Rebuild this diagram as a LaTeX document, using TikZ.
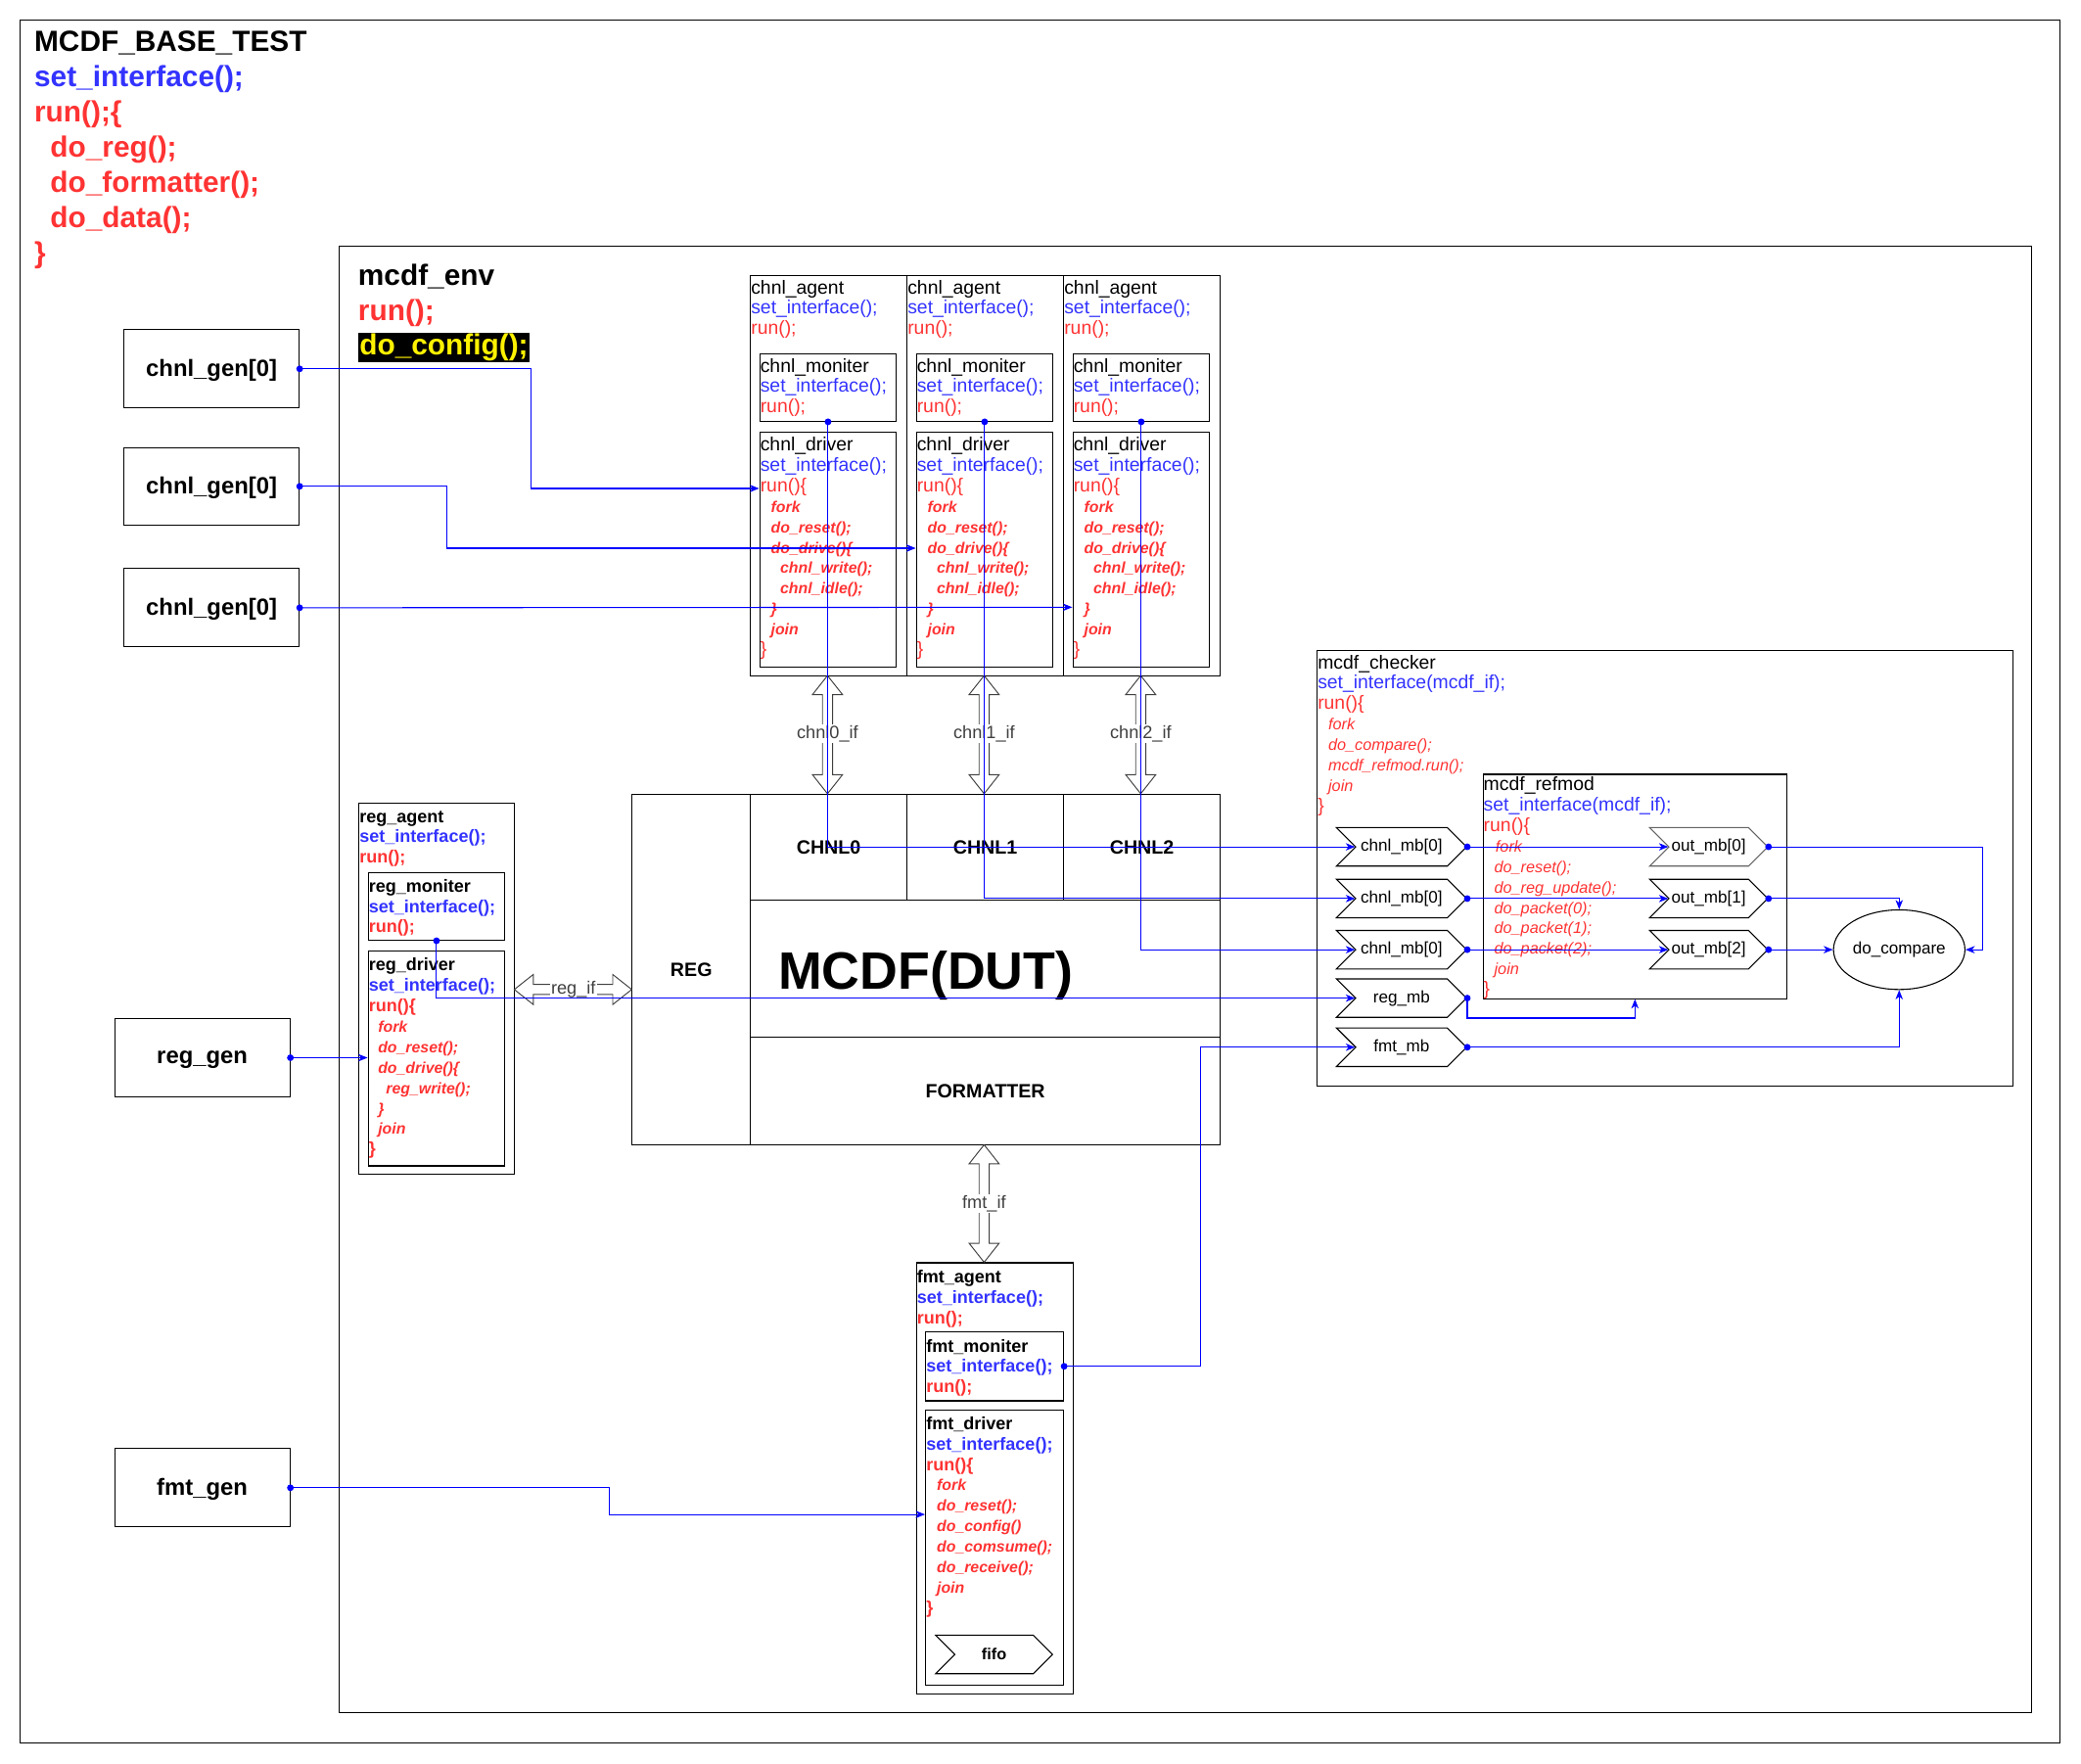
\documentclass[tikz,border=0pt]{standalone}
\usepackage{fontspec}
\setmainfont{Liberation Sans}
\usetikzlibrary{arrows.meta,shapes.symbols,shapes.geometric}
\definecolor{txtblue}{RGB}{51,51,255}
\definecolor{txtred}{RGB}{255,51,51}
\definecolor{ifgray}{RGB}{64,64,64}
\definecolor{mbgray}{RGB}{100,100,100}
\newcommand\inblue[1]{\textcolor{txtblue}{#1}}
\newcommand\inred[1]{\textcolor{txtred}{#1}}
\newcommand\drvline[1]{{\fontsize{11.7}{15.4}\selectfont\bfseries\itshape\color{txtred}#1}}
\newcommand\chkline[1]{{\fontsize{12}{15.4}\selectfont\itshape\color{txtred}#1}}
\begin{document}
\begin{tikzpicture}[x=1pt, y=-1pt, line width=0.8pt,
  box/.style={draw, rectangle, anchor=north west, inner sep=0pt},
  genbox/.style={box, minimum width=132pt, minimum height=59pt, text depth=1pt, font=\fontsize{17.6}{20}\selectfont\bfseries},
  code/.style={anchor=north west, inner sep=0pt, align=left, font=\fontsize{14.3}{15.4}\selectfont},
  boldcode/.style={code, font=\fontsize{13.3}{15.4}\selectfont\bfseries},
  dutcell/.style={box, font=\fontsize{14.5}{17}\selectfont\bfseries},
  mbox/.style={draw, signal, signal from=west, signal to=east, minimum width=98pt, minimum height=29pt, inner sep=0pt, font=\fontsize{12.6}{14}\selectfont},
  ifarrow/.style={draw=ifgray, fill=white, line width=0.7pt},
  iflabel/.style={fill=white, inner sep=0.8pt, text=ifgray, font=\fontsize{13.4}{15}\selectfont},
  wire/.style={draw=blue, line width=0.8pt, shorten <=-2.5pt, {Circle[length=5pt]}-{Stealth[length=7pt,width=5.5pt,inset=2pt]}}]
\useasboundingbox[fill=white] (0,0) rectangle (1568,1328.3);
\node[box, minimum width=1537pt, minimum height=1298pt] (test) at (15,15) {};
\node[code, font=\fontsize{22}{26.5}\selectfont\bfseries] (testtxt) at (25.5,23) {MCDF\_BASE\_TEST\\\inblue{set\_interface();}\\\inred{run();\{}\\\hspace*{12pt}\inred{do\_reg();}\\\hspace*{12pt}\inred{do\_formatter();}\\\hspace*{12pt}\inred{do\_data();}\\\inred{\}}};
\node[box, minimum width=1275pt, minimum height=1105pt] (env) at (255,185) {};
\node[code, font=\fontsize{22}{26}\selectfont\bfseries] (envtxt) at (269.5,199) {mcdf\_env\\\inred{run();}\\{\setlength\fboxsep{1pt}\colorbox{black}{\textcolor{yellow}{do\_config();}}}};
\node[genbox] (gen0) at (93,248) {chnl\_gen[0]};
\node[genbox, minimum height=58pt] (gen1) at (93,337) {chnl\_gen[0]};
\node[genbox] (gen2) at (93,428) {chnl\_gen[0]};
\node[genbox] (reggen) at (86,767) {reg\_gen};
\node[genbox] (fmtgen) at (86,1091) {fmt\_gen};

\node[box, minimum width=118pt, minimum height=302pt] (agent0) at (565,207) {};
\node[box, minimum width=103pt, minimum height=51pt] (mon0) at (572,266) {};
\node[box, minimum width=103pt, minimum height=177pt] (drv0) at (572,325) {};
\node[code] (agent0txt) at (565.5,210.5) {chnl\_agent\\\inblue{set\_interface();}\\\inred{run();}};
\node[code] (mon0txt) at (572.5,269.5) {chnl\_moniter\\\inblue{set\_interface();}\\\inred{run();}};
\node[code] (drv0txt) at (572.5,329) {chnl\_driver\\\inblue{set\_interface();}\\\inred{run()\{}\\\drvline{\hspace*{8pt}fork}\\\drvline{\hspace*{8pt}do\_reset();}\\\drvline{\hspace*{8pt}do\_drive()\{}\\\drvline{\hspace*{15pt}chnl\_write();}\\\drvline{\hspace*{15pt}chnl\_idle();}\\\drvline{\hspace*{8pt}\}}\\\drvline{\hspace*{8pt}join}\\\inred{\}}};
\node[box, minimum width=118pt, minimum height=302pt] (agent1) at (683,207) {};
\node[box, minimum width=103pt, minimum height=51pt] (mon1) at (690,266) {};
\node[box, minimum width=103pt, minimum height=177pt] (drv1) at (690,325) {};
\node[code] (agent1txt) at (683.5,210.5) {chnl\_agent\\\inblue{set\_interface();}\\\inred{run();}};
\node[code] (mon1txt) at (690.5,269.5) {chnl\_moniter\\\inblue{set\_interface();}\\\inred{run();}};
\node[code] (drv1txt) at (690.5,329) {chnl\_driver\\\inblue{set\_interface();}\\\inred{run()\{}\\\drvline{\hspace*{8pt}fork}\\\drvline{\hspace*{8pt}do\_reset();}\\\drvline{\hspace*{8pt}do\_drive()\{}\\\drvline{\hspace*{15pt}chnl\_write();}\\\drvline{\hspace*{15pt}chnl\_idle();}\\\drvline{\hspace*{8pt}\}}\\\drvline{\hspace*{8pt}join}\\\inred{\}}};
\node[box, minimum width=118pt, minimum height=302pt] (agent2) at (801,207) {};
\node[box, minimum width=103pt, minimum height=51pt] (mon2) at (808,266) {};
\node[box, minimum width=103pt, minimum height=177pt] (drv2) at (808,325) {};
\node[code] (agent2txt) at (801.5,210.5) {chnl\_agent\\\inblue{set\_interface();}\\\inred{run();}};
\node[code] (mon2txt) at (808.5,269.5) {chnl\_moniter\\\inblue{set\_interface();}\\\inred{run();}};
\node[code] (drv2txt) at (808.5,329) {chnl\_driver\\\inblue{set\_interface();}\\\inred{run()\{}\\\drvline{\hspace*{8pt}fork}\\\drvline{\hspace*{8pt}do\_reset();}\\\drvline{\hspace*{8pt}do\_drive()\{}\\\drvline{\hspace*{15pt}chnl\_write();}\\\drvline{\hspace*{15pt}chnl\_idle();}\\\drvline{\hspace*{8pt}\}}\\\drvline{\hspace*{8pt}join}\\\inred{\}}};

\node[box, minimum width=117pt, minimum height=279pt] (regagent) at (270,605) {};
\node[box, minimum width=103pt, minimum height=51pt] (regmon) at (277,657) {};
\node[box, minimum width=103pt, minimum height=162pt] (regdrv) at (277,716) {};
\node[boldcode] (regagenttxt) at (270.5,610.5) {reg\_agent\\\inblue{set\_interface();}\\\inred{run();}};
\node[boldcode] (regmontxt) at (277.5,662) {reg\_moniter\\\inblue{set\_interface();}\\\inred{run();}};
\node[boldcode] (regdrvtxt) at (277.5,721.5) {reg\_driver\\\inblue{set\_interface();}\\\inred{run()\{}\\\drvline{\hspace*{7pt}fork}\\\drvline{\hspace*{7pt}do\_reset();}\\\drvline{\hspace*{7pt}do\_drive()\{}\\\drvline{\hspace*{13pt}reg\_write();}\\\drvline{\hspace*{7pt}\}}\\\drvline{\hspace*{7pt}join}\\\inred{\}}};

\node[box, minimum width=118pt, minimum height=325pt] (fmtagent) at (690,951) {};
\node[box, minimum width=104pt, minimum height=52pt] (fmtmon) at (697,1003) {};
\node[box, minimum width=104pt, minimum height=207pt] (fmtdrv) at (697,1062) {};
\node[boldcode] (fmtagenttxt) at (690.5,956.5) {fmt\_agent\\\inblue{set\_interface();}\\\inred{run();}};
\node[boldcode] (fmtmontxt) at (697.5,1008.5) {fmt\_moniter\\\inblue{set\_interface();}\\\inred{run();}};
\node[boldcode] (fmtdrvtxt) at (697.5,1067) {fmt\_driver\\\inblue{set\_interface();}\\\inred{run()\{}\\\drvline{\hspace*{8pt}fork}\\\drvline{\hspace*{8pt}do\_reset();}\\\drvline{\hspace*{8pt}do\_config()}\\\drvline{\hspace*{8pt}do\_comsume();}\\\drvline{\hspace*{8pt}do\_receive();}\\\drvline{\hspace*{8pt}join}\\\inred{\}}};
\node[mbox, minimum width=88pt, font=\fontsize{12}{14}\selectfont\bfseries] (fifo) at (749,1246.5) {fifo};

\node[box, minimum width=443pt, minimum height=264pt] (dut) at (476,598) {};
\node[dutcell, minimum width=89pt, minimum height=264pt] (reg) at (476,598) {REG};
\node[dutcell, minimum width=118pt, minimum height=80pt] (chnl0) at (565,598) {CHNL0};
\node[dutcell, minimum width=118pt, minimum height=80pt] (chnl1) at (683,598) {CHNL1};
\node[dutcell, minimum width=118pt, minimum height=80pt] (chnl2) at (801,598) {CHNL2};
\node[dutcell, minimum width=354pt, minimum height=103pt] (core) at (565,678) {};
\node[dutcell, minimum width=354pt, minimum height=81pt] (formatter) at (565,781) {FORMATTER};
\node[anchor=base west, inner sep=0pt, font=\fontsize{39.6}{44}\selectfont\bfseries] (dutlabel) at (586,745.5) {MCDF(DUT)};

\draw[ifarrow] (623.5,509) -- ++(11.3,14.3) -- ++(-7.5,0) -- ++(0,60.4) -- ++(7.5,0) -- ++(-11.3,14.3) -- ++(-11.3,-14.3) -- ++(7.5,0) -- ++(0,-60.4) -- ++(-7.5,0) -- cycle;
\draw[ifarrow] (741.5,509) -- ++(11.3,14.3) -- ++(-7.5,0) -- ++(0,60.4) -- ++(7.5,0) -- ++(-11.3,14.3) -- ++(-11.3,-14.3) -- ++(7.5,0) -- ++(0,-60.4) -- ++(-7.5,0) -- cycle;
\draw[ifarrow] (859.5,509) -- ++(11.3,14.3) -- ++(-7.5,0) -- ++(0,60.4) -- ++(7.5,0) -- ++(-11.3,14.3) -- ++(-11.3,-14.3) -- ++(7.5,0) -- ++(0,-60.4) -- ++(-7.5,0) -- cycle;
\draw[ifarrow] (741.5,862.5) -- ++(11.3,14.3) -- ++(-7.5,0) -- ++(0,59.9) -- ++(7.5,0) -- ++(-11.3,14.3) -- ++(-11.3,-14.3) -- ++(7.5,0) -- ++(0,-59.9) -- ++(-7.5,0) -- cycle;
\draw[ifarrow] (387.5,745.5) -- ++(14.3,-11.3) -- ++(0,7.5) -- ++(59.9,0) -- ++(0,-7.5) -- ++(14.3,11.3) -- ++(-14.3,11.3) -- ++(0,-7.5) -- ++(-59.9,0) -- ++(0,7.5) -- cycle;
\node[iflabel] (chnl0if) at (623.5,553) {chnl0\_if};
\node[iflabel] (chnl1if) at (741.5,553) {chnl1\_if};
\node[iflabel] (chnl2if) at (859.5,553) {chnl2\_if};
\node[iflabel] (fmtif) at (741.5,907) {fmt\_if};
\node[iflabel] (regif) at (432,745.5) {reg\_if};

\node[box, minimum width=524pt, minimum height=328pt] (checker) at (992,490) {};
\node[code] (checkertxt) at (992.5,493) {mcdf\_checker\\\inblue{set\_interface(mcdf\_if);}\\\inred{run()\{}\\\chkline{\hspace*{8pt}fork}\\\chkline{\hspace*{8pt}do\_compare();}\\\chkline{\hspace*{8pt}mcdf\_refmod.run();}\\\chkline{\hspace*{8pt}join}\\\inred{\}}};
\node[box, minimum width=229pt, minimum height=169pt] (refmod) at (1117,583) {};
\node[code] (refmodtxt) at (1117.5,585) {mcdf\_refmod\\\inblue{set\_interface(mcdf\_if);}\\\inred{run()\{}\\\chkline{\hspace*{9pt}fork}\\\chkline{\hspace*{8pt}do\_reset();}\\\chkline{\hspace*{8pt}do\_reg\_update();}\\\chkline{\hspace*{8pt}do\_packet(0);}\\\chkline{\hspace*{8pt}do\_packet(1);}\\\chkline{\hspace*{8pt}do\_packet(2);}\\\chkline{\hspace*{8pt}join}\\\inred{\}}};
\node[mbox] (chmb0) at (1056,638) {chnl\_mb[0]};
\node[mbox] (chmb1) at (1056,677) {chnl\_mb[0]};
\node[mbox] (chmb2) at (1056,715.5) {chnl\_mb[0]};
\node[mbox] (regmb) at (1056,752) {reg\_mb};
\node[mbox] (fmtmb) at (1056,789) {fmt\_mb};
\node[mbox, draw=mbgray, minimum width=89pt] (outmb0) at (1287.5,638) {out\_mb[0]};
\node[mbox, minimum width=89pt] (outmb1) at (1287.5,677) {out\_mb[1]};
\node[mbox, minimum width=89pt] (outmb2) at (1287.5,715.5) {out\_mb[2]};
\node[draw, ellipse, minimum width=96pt, minimum height=60pt, inner sep=0pt, font=\fontsize{12.6}{14}\selectfont] (cmp) at (1431,715.5) {do\_compare};

\coordinate (drv0in) at (572,368);
\coordinate (drv1in) at (690,413);
\coordinate (drv2in) at (808,457.5);
\coordinate (fmtdrvin) at (697,1141);
\draw[wire] (gen0.east) -- ++(174,0) |- (drv0in);
\draw[wire] (gen1.east) -- ++(111,0) |- (drv1in);
\draw[wire] (gen2.east) -- (drv2in);
\draw[wire] (reggen.east) -- (reggen.east -| regdrv.west);
\draw[wire] (fmtgen.east) -- ++(240,0) |- (fmtdrvin);
\draw[wire] (mon0.south) |- ([xshift=-35pt]chmb0.center);
\draw[wire] (mon1.south) |- ([xshift=-35pt]chmb1.center);
\draw[wire] (mon2.south) |- ([xshift=-35pt]chmb2.center);
\draw[wire] (regmon.south) |- ([xshift=-35pt]regmb.center);
\draw[wire] (fmtmon.east) -- ++(103,0) |- ([xshift=-35pt]fmtmb.center);
\draw[wire] (chmb0.east) -- ([xshift=-30.5pt]outmb0.center);
\draw[wire] (chmb1.east) -- ([xshift=-30.5pt]outmb1.center);
\draw[wire] (chmb2.east) -- ([xshift=-30.5pt]outmb2.center);
\draw[wire] (outmb0.east) -- ++(161,0) |- (cmp.east);
\draw[wire] (outmb1.east) -| (cmp.north);
\draw[wire] (outmb2.east) -- (cmp.west);
\draw[wire] (regmb.east) -- ++(0,15) -| (refmod.south);
\draw[wire] (fmtmb.east) -| (cmp.south);
\end{tikzpicture}
\end{document}
